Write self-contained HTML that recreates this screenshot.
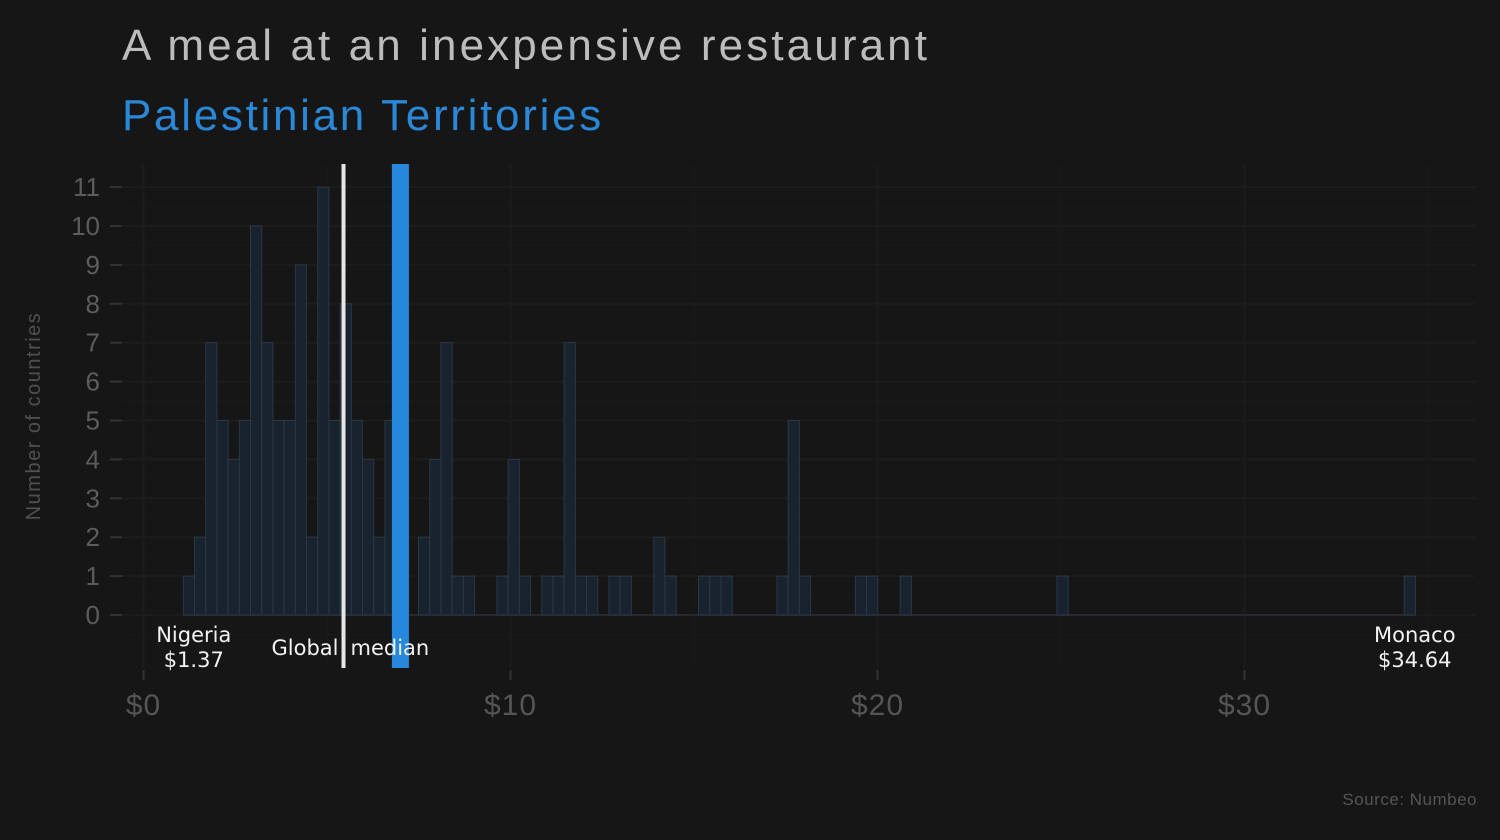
<!DOCTYPE html>
<html><head><meta charset="utf-8"><style>
html,body{margin:0;padding:0;background:#161616;}
svg{display:block;}
</style></head><body>
<svg id="chart" width="1500" height="840" xmlns="http://www.w3.org/2000/svg">
<rect width="1500" height="840" fill="#161616"/>
<text x="122" y="60" font-family="Liberation Sans, sans-serif" font-size="44" fill="#bcbcbc" letter-spacing="3.1">A meal at an inexpensive restaurant</text>
<text x="122" y="130" font-family="Liberation Sans, sans-serif" font-size="44" fill="#2a88d8" letter-spacing="2.7">Palestinian Territories</text>
<text transform="translate(40,416) rotate(-90)" text-anchor="middle" font-family="Liberation Sans, sans-serif" font-size="20" fill="#505050" letter-spacing="1.5">Number of countries</text>
<text x="1477" y="805" text-anchor="end" font-family="Liberation Sans, sans-serif" font-size="17" fill="#555" letter-spacing="0.5">Source: Numbeo</text>
<g id="grid"></g><g id="bars"></g><g id="axes"></g><g id="annot"></g>
</svg>
<script>
const counts = [1,2,7,5,4,5,10,7,5,5,9,2,11,5,8,5,4,2,5,1,0,2,4,7,1,1,0,0,1,4,1,0,1,1,7,1,1,0,1,1,0,0,2,1,0,0,1,1,1,0,0,0,0,1,5,1,0,0,0,0,1,1,0,0,1,0,0,0,0,0,0,0,0,0,0,0,0,0,1,0,0,0,0,0,0,0,0,0,0,0,0,0,0,0,0,0,0,0,0,0,0,0,0,0,0,0,0,0,0,1];
const binStart = 1.085;
const binWidth = 0.3052;
const xTicks = [0,10,20,30];
const xTickLabels = ["$0","$10","$20","$30"];
const yTicks = [0,1,2,3,4,5,6,7,8,9,10,11];
const medianValue = 5.45;
const highlightValue = 7.0;
const minLabel = ["Nigeria","$1.37"];
const maxLabel = ["Monaco","$34.64"];
const minValue = 1.37, maxValue = 34.64;

const NS="http://www.w3.org/2000/svg";
const x = v => 143.5 + 36.7*v;
const y = c => 615 - 38.9*c;
function mk(tag, attrs, parent){const e=document.createElementNS(NS,tag);for(const k in attrs)e.setAttribute(k,attrs[k]);parent.appendChild(e);return e;}
const grid=document.getElementById('grid'), bars=document.getElementById('bars'), axes=document.getElementById('axes'), annot=document.getElementById('annot');

for(let v=-0.5; v<=11.5; v+=0.5){
  const l=mk('line',{x1:122,x2:1475,y1:y(v),y2:y(v),stroke:(v%1===0)?'#1c1c1c':'#191919','stroke-width':(v%1===0)?2:1},grid);
  
  
}
for(let v=0; v<=35; v+=5){
  const l=mk('line',{x1:x(v),x2:x(v),y1:165,y2:668,stroke:(v%10===0)?'#1c1c1c':'#191919','stroke-width':(v%10===0)?2:1},grid);
  
  
}
const base=mk('line',{x1:x(binStart),x2:x(binStart+binWidth*counts.length),y1:y(0),y2:y(0),stroke:'#2a2f35','stroke-width':1.5},bars);


counts.forEach((c,i)=>{
  if(c<=0) return;
  const x0=x(binStart+i*binWidth), x1=x(binStart+(i+1)*binWidth);
  const r=mk('rect',{x:x0,y:y(c),width:x1-x0,height:y(0)-y(c),fill:'#19232e',stroke:'#2a3846','stroke-width':1},bars);
  
  
});
yTicks.forEach(t=>{
  const tk=mk('line',{x1:110,x2:122,y1:y(t),y2:y(t),stroke:'#333','stroke-width':2},axes);
  
  
  const tx=mk('text',{x:100,y:y(t)+9,'text-anchor':'end','font-family':'Liberation Sans, sans-serif','font-size':26,fill:'#5c5c5c'},axes);
  tx.textContent=t;
  
  
});
xTicks.forEach((t,i)=>{
  const tk=mk('line',{x1:x(t),x2:x(t),y1:670,y2:680,stroke:'#333','stroke-width':2},axes);
  
  
  const tx=mk('text',{x:x(t),y:715,'text-anchor':'middle','font-family':'Liberation Sans, sans-serif','font-size':30,fill:'#555','letter-spacing':1},axes);
  tx.textContent=xTickLabels[i];
  
  
});
const med=mk('line',{x1:x(medianValue),x2:x(medianValue),y1:164,y2:668,stroke:'#e6e6e6','stroke-width':4},annot);


const hl=mk('rect',{x:x(highlightValue)-8.5,y:164,width:17,height:504,fill:'#2588dc'},annot);


function label(txt,xx,yy,anchor,name){
  const t=mk('text',{x:xx,y:yy,'text-anchor':anchor,'font-family':'DejaVu Sans, sans-serif','font-size':21,fill:'#f2f2f2'},annot);
  t.textContent=txt;
  
  
}
label(minLabel[0],x(minValue),642,'middle','min-country-label');
label(minLabel[1],x(minValue),667,'middle','min-value-label');
label(maxLabel[0],x(maxValue),642,'middle','max-country-label');
label(maxLabel[1],x(maxValue),667,'middle','max-value-label');
label('Global',x(medianValue)-5,655,'end','median-label-left');
label('median',x(medianValue)+7,655,'start','median-label-right');
</script>
</body></html>
